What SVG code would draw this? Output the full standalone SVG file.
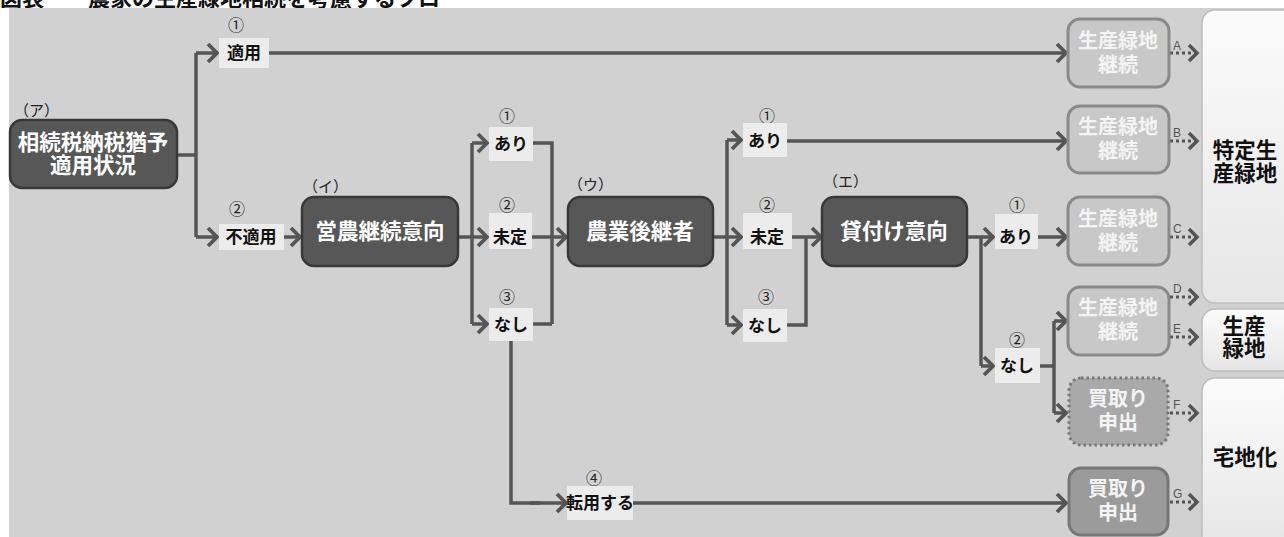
<svg xmlns="http://www.w3.org/2000/svg" width="1284" height="537" viewBox="0 0 1284 537">
<defs>
<style>
.t{font-family:"Noto Sans CJK JP","Noto Sans",sans-serif}
.node rect.dk{fill:#575757;stroke:#383838;stroke-width:2.5}
.nt{font-family:"Noto Sans CJK JP",sans-serif;font-weight:bold;font-size:21.5px;fill:#fff;text-anchor:middle}
.lb{fill:#ececec}
.lt{font-family:"Noto Sans CJK JP",sans-serif;font-weight:bold;font-size:17px;fill:#111;text-anchor:middle}
.num{font-family:"Noto Sans CJK JP",sans-serif;font-size:16px;fill:#222;text-anchor:middle}
.tag{font-family:"Noto Sans CJK JP",sans-serif;font-size:15px;fill:#222}
.gb{fill:#c8c8c8;stroke:#8a8a8a;stroke-width:3}
.gt{font-family:"Noto Sans CJK JP",sans-serif;font-weight:bold;font-size:20px;fill:#f4f4f4;text-anchor:middle}
.rb{fill:url(#rg);stroke:#bdbdbd;stroke-width:1.5}
.rt{font-family:"Noto Sans CJK JP",sans-serif;font-weight:bold;font-size:21.5px;fill:#111;text-anchor:middle}
.ln{fill:none;stroke:#555;stroke-width:3.5}
.ar{fill:none;stroke:#555;stroke-width:3.5;marker-end:url(#ah)}
.dt{fill:none;stroke:#555;stroke-width:3;stroke-dasharray:3 3;marker-end:url(#ah2)}
.let{font-family:"Liberation Sans",sans-serif;font-size:12px;fill:#555}
</style>
<marker id="ah" markerUnits="userSpaceOnUse" markerWidth="16" markerHeight="24" refX="12" refY="12" orient="auto">
<path d="M3,3 L12,12 L3,21" fill="none" stroke="#555" stroke-width="3.8"/>
</marker>
<marker id="ah2" markerUnits="userSpaceOnUse" markerWidth="16" markerHeight="24" refX="12" refY="12" orient="auto">
<path d="M4,4 L12,12 L4,20" fill="none" stroke="#555" stroke-width="3.5"/>
</marker>
<linearGradient id="rg" x1="0" y1="0" x2="0" y2="1">
<stop offset="0" stop-color="#fbfbfb"/>
<stop offset="1" stop-color="#e6e6e6"/>
</linearGradient>
<clipPath id="tc"><rect x="0" y="0" width="1284" height="8"/></clipPath>
</defs>
<rect x="0" y="0" width="1284" height="537" fill="#fff"/>
<text class="t" x="0" y="5.5" font-size="22" font-weight="bold" fill="#111" clip-path="url(#tc)">図表　　農家の生産緑地相続を考慮するフロー</text>
<rect x="9" y="8" width="1275" height="529" fill="#d1d1d1"/>

<g id="outcomes">
<rect class="rb" x="1202" y="10" width="100" height="293" rx="13"/>
<text class="rt" x="1245" y="158"><tspan x="1245">特定生</tspan><tspan x="1245" dy="22.5">産緑地</tspan></text>
<rect class="rb" x="1202" y="309" width="100" height="62" rx="13"/>
<text class="rt" x="1244" y="334"><tspan x="1244">生産</tspan><tspan x="1244" dy="22">緑地</tspan></text>
<rect class="rb" x="1202" y="378" width="100" height="170" rx="13"/>
<text class="rt" x="1245" y="465">宅地化</text>
</g>

<g id="connectors">
<path class="ln" d="M177,155 H196 M196,53 V237"/>
<path class="ar" d="M196,53 H217"/>
<path class="ar" d="M196,237 H217"/>
<path class="ar" d="M269,53 H1066"/>
<path class="ar" d="M284,237 H300"/>
<path class="ln" d="M458,237 H472 M472,143 V324"/>
<path class="ar" d="M472,143 H487"/>
<path class="ar" d="M472,237 H487"/>
<path class="ar" d="M472,324 H487"/>
<path class="ln" d="M533,143 H552 V324 M533,324 H552"/>
<path class="ar" d="M532,237 H566"/>
<path class="ln" d="M511,341 V503 H540"/>
<path class="ar" d="M530,503 H566"/>
<path class="ar" d="M633,503 H1066"/>
<path class="ln" d="M713,237 H727 M727,140 V325"/>
<path class="ar" d="M727,140 H741"/>
<path class="ar" d="M727,237 H741"/>
<path class="ar" d="M727,325 H741"/>
<path class="ar" d="M787,141 H1066"/>
<path class="ar" d="M792,237 H821"/>
<path class="ln" d="M787,325 H806 V237"/>
<path class="ln" d="M967,237 H981 V366"/>
<path class="ar" d="M981,237 H993"/>
<path class="ar" d="M981,366 H993"/>
<path class="ar" d="M1038,237 H1066"/>
<path class="ln" d="M1040,366 H1054 M1054,321 V413"/>
<path class="ar" d="M1054,321 H1066"/>
<path class="ar" d="M1054,413 H1066"/>
<path class="dt" d="M1170,53 H1197"/>
<path class="dt" d="M1170,141 H1197"/>
<path class="dt" d="M1170,237 H1197"/>
<path class="dt" d="M1170,297 H1197"/>
<path class="dt" d="M1170,337 H1197"/>
<path class="dt" d="M1170,413 H1197"/>
<path class="dt" d="M1170,502 H1197"/>
<text class="let" x="1173" y="50">A</text>
<text class="let" x="1173" y="137">B</text>
<text class="let" x="1173" y="233">C</text>
<text class="let" x="1173" y="293">D</text>
<text class="let" x="1173" y="333">E</text>
<text class="let" x="1173" y="409">F</text>
<text class="let" x="1173" y="498">G</text>
</g>

<g id="node-a" class="node">
<text class="tag" x="14" y="116">（ア）</text>
<rect class="dk" x="10" y="120" width="167" height="68" rx="12"/>
<text class="nt" x="93" y="150"><tspan x="93">相続税納税猶予</tspan><tspan x="93" dy="22.5">適用状況</tspan></text>
</g>
<g id="label-a1">
<text class="num" x="236" y="31">①</text>
<rect class="lb" x="219" y="38" width="50" height="30"/>
<text class="lt" x="244" y="59">適用</text>
</g>
<g id="label-a2">
<text class="num" x="237" y="215">②</text>
<rect class="lb" x="219" y="224" width="65" height="26"/>
<text class="lt" x="251" y="243">不適用</text>
</g>

<g id="node-i" class="node">
<text class="tag" x="303" y="192">（イ）</text>
<rect class="dk" x="302" y="197" width="156" height="69" rx="12"/>
<text class="nt" x="380" y="239">営農継続意向</text>
</g>
<g id="label-i1">
<text class="num" x="507" y="122">①</text>
<rect class="lb" x="489" y="127" width="44" height="34"/>
<text class="lt" x="511" y="150">あり</text>
</g>
<g id="label-i2">
<text class="num" x="507" y="211">②</text>
<rect class="lb" x="489" y="213" width="43" height="36"/>
<text class="lt" x="510" y="243">未定</text>
</g>
<g id="label-i3">
<text class="num" x="507" y="303">③</text>
<rect class="lb" x="489" y="308" width="44" height="33"/>
<text class="lt" x="511" y="331">なし</text>
</g>
<g id="label-i4">
<text class="num" x="594" y="484">④</text>
<rect class="lb" x="567" y="486" width="66" height="34"/>
<text class="lt" x="600" y="509" fill="#333">転用する</text>
</g>

<g id="node-u" class="node">
<text class="tag" x="568" y="190">（ウ）</text>
<rect class="dk" x="568" y="197" width="145" height="69" rx="12"/>
<text class="nt" x="640" y="239">農業後継者</text>
</g>
<g id="label-u1">
<text class="num" x="767" y="122">①</text>
<rect class="lb" x="743" y="123" width="44" height="34"/>
<text class="lt" x="765" y="147">あり</text>
</g>
<g id="label-u2">
<text class="num" x="767" y="211">②</text>
<rect class="lb" x="743" y="213" width="49" height="36"/>
<text class="lt" x="767" y="243">未定</text>
</g>
<g id="label-u3">
<text class="num" x="766" y="303">③</text>
<rect class="lb" x="743" y="309" width="44" height="33"/>
<text class="lt" x="765" y="332">なし</text>
</g>

<g id="node-e" class="node">
<text class="tag" x="823" y="187">（エ）</text>
<rect class="dk" x="822" y="197" width="145" height="69" rx="12"/>
<text class="nt" x="894" y="239">貸付け意向</text>
</g>
<g id="label-e1">
<text class="num" x="1017" y="211">①</text>
<rect class="lb" x="995" y="214" width="43" height="35"/>
<text class="lt" x="1016" y="243">あり</text>
</g>
<g id="label-e2">
<text class="num" x="1017" y="346">②</text>
<rect class="lb" x="995" y="348" width="45" height="35"/>
<text class="lt" x="1017" y="372">なし</text>
</g>

<g id="box-a" class="node">
<rect class="gb" x="1068" y="19" width="101" height="68" rx="12"/>
<text class="gt" x="1118" y="48"><tspan x="1118">生産緑地</tspan><tspan x="1118" dy="24">継続</tspan></text>
</g>
<g id="box-b" class="node">
<rect class="gb" x="1068" y="106" width="101" height="67" rx="12"/>
<text class="gt" x="1118" y="134"><tspan x="1118">生産緑地</tspan><tspan x="1118" dy="24">継続</tspan></text>
</g>
<g id="box-c" class="node">
<rect class="gb" x="1068" y="197" width="101" height="68" rx="12"/>
<text class="gt" x="1118" y="226"><tspan x="1118">生産緑地</tspan><tspan x="1118" dy="24">継続</tspan></text>
</g>
<g id="box-de" class="node">
<rect class="gb" x="1068" y="287" width="101" height="68" rx="12"/>
<text class="gt" x="1118" y="315"><tspan x="1118">生産緑地</tspan><tspan x="1118" dy="24">継続</tspan></text>
</g>
<g id="box-f" class="node">
<rect x="1069" y="378" width="99" height="67" rx="12" fill="#a9a9a9" stroke="#777" stroke-width="3" stroke-dasharray="2.5 3"/>
<text class="gt" x="1118" y="406"><tspan x="1118">買取り</tspan><tspan x="1118" dy="24">申出</tspan></text>
</g>
<g id="box-g" class="node">
<rect x="1069" y="468" width="99" height="67" rx="12" fill="#9b9b9b" stroke="#777" stroke-width="3"/>
<text class="gt" x="1118" y="496"><tspan x="1118">買取り</tspan><tspan x="1118" dy="24">申出</tspan></text>
</g>
</svg>
